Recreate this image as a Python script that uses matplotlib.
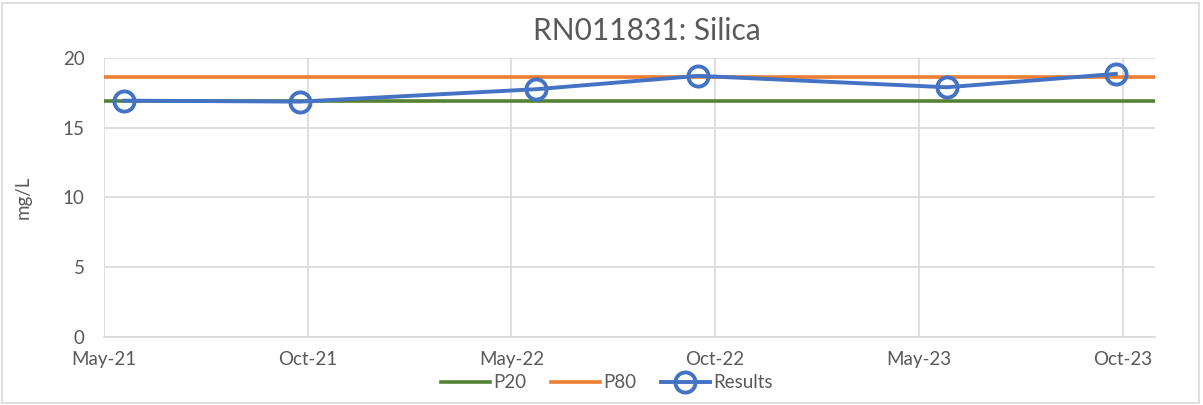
import numpy as np
import matplotlib.pyplot as plt
from matplotlib.patches import Rectangle

plt.rcParams['font.family'] = ['Lato', 'DejaVu Sans']

# sampling dates (days after 2021-05-01) and silica results, mg/L
start = np.datetime64('2021-05-01')
sample_days = [18, 175, 386, 531, 753, 904]
results = [16.94, 16.87, 17.76, 18.72, 17.9, 18.86]
p20 = 16.92
p80 = 18.62

tick_step = 182
tick_labels = ['May-21', 'Oct-21', 'May-22', 'Oct-22', 'May-23', 'Oct-23']
x_end = 939

dates = start + np.array(sample_days).astype('timedelta64[D]')
ticks = start + (np.arange(len(tick_labels)) * tick_step).astype('timedelta64[D]')
x_lim = [start, start + np.timedelta64(x_end, 'D')]

txt = '#595959'
grid = '#D9D9D9'

fig = plt.figure(figsize=(12.03, 4.05), dpi=100)
ax = fig.add_axes([104/1203, 1 - 336.7/405, (1155 - 104)/1203, (336.7 - 58)/405])

ax.plot(x_lim, [p20, p20], color='#548235', lw=2.6, label='P20')
ax.plot(x_lim, [p80, p80], color='#ED7D31', lw=2.6, label='P80')
ax.plot(dates, results, color='#4472C4', lw=2.8, marker='o', ms=14.5,
        mfc='none', mec='#4472C4', mew=2.8, label='Results')

ax.set_xlim(x_lim)
ax.set_ylim(0, 20)
ax.set_yticks([0, 5, 10, 15, 20])
ax.set_xticks(ticks)
ax.set_xticklabels(tick_labels)
ax.grid(True, color=grid, lw=1.2)
ax.set_axisbelow(True)
for s in ['top', 'right', 'left']:
    ax.spines[s].set_visible(False)
ax.spines['bottom'].set_color(grid)
ax.spines['bottom'].set_linewidth(1.2)
ax.tick_params(length=0, labelsize=13.5, labelcolor=txt)
ax.tick_params(axis='x', pad=10)
ax.tick_params(axis='y', pad=14)
ax.set_ylabel('mg/L', fontsize=13.5, color=txt, labelpad=22)

fig.text(647/1203, 1 - 31/405, 'RN011831: Silica', fontsize=21.5, color=txt,
         ha='center', va='center')

fig.legend(loc='center', bbox_to_anchor=(607/1203, 1 - 383/405), ncol=3,
           frameon=False, fontsize=13.5, handlelength=2.6, columnspacing=1.3,
           handletextpad=0.2, labelcolor=txt)

fig.patches.append(Rectangle((2/1203, 2/405), 1197/1203, 400/405,
                             transform=fig.transFigure, fill=False,
                             edgecolor=grid, lw=1.2))

fig.savefig('out.png', dpi=100)
